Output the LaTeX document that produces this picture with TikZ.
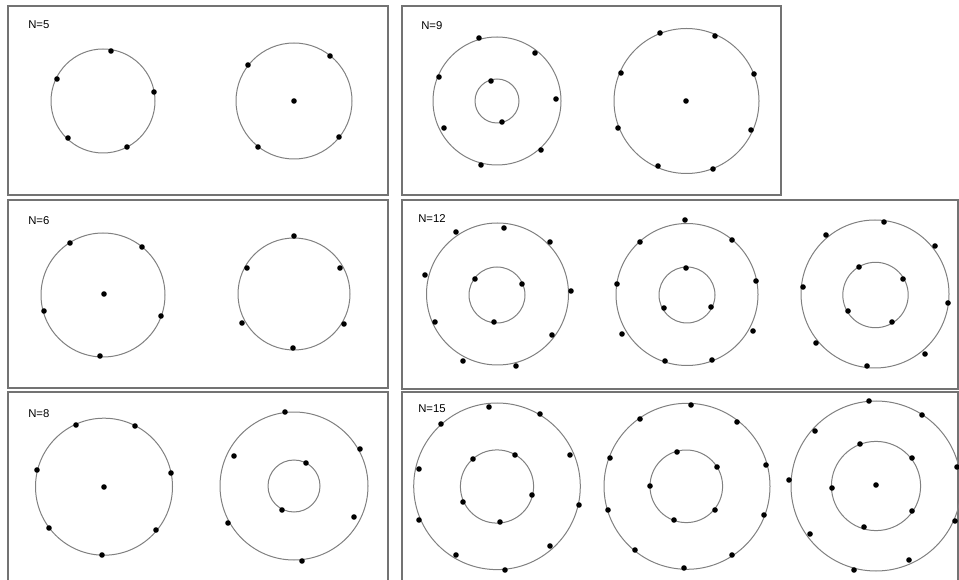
\documentclass[tikz,border=0pt]{standalone}
\usepackage{fontspec}
\setmainfont{Liberation Sans}

\begin{document}
\begin{tikzpicture}[
    x=0.75pt, y=-0.75pt,
    panel/.style={draw=black!55, line width=1.1pt},
    ring/.style={draw=black!50, line width=0.75pt},
    dot/.style={fill=black},
    tag/.style={anchor=west, inner sep=0pt, font=\fontsize{8.5}{10}\selectfont},
]
\clip (0,0) rectangle (959,580);

% --- Panel frames ---
\draw[panel] (8,6) rectangle (388,195);
\draw[panel] (402,6) rectangle (781,195);
\draw[panel] (8,200) rectangle (388,388);
\draw[panel] (402,200) rectangle (958,389);
\draw[panel] (8,392) rectangle (388,590);
\draw[panel] (402,392) rectangle (958,590);

% --- Labels ---
\node[tag] (n5) at (28,25) {N=5};
\node[tag] (n9) at (421,26) {N=9};
\node[tag] (n6) at (28,221) {N=6};
\node[tag] (n12) at (418,219) {N=12};
\node[tag] (n8) at (28,414) {N=8};
\node[tag] (n15) at (418,409) {N=15};

% --- N=5 ---
\draw[ring] (103,101) circle[radius=52];
\draw[ring] (294,101) circle[radius=58];
\foreach \x/\y in {111/51, 57/79, 154/92, 68/138, 127/147,
                   294/101, 248/65, 330/56, 258/147, 339/137}
  \fill[dot] (\x,\y) circle[radius=2.8];

% --- N=9 ---
\draw[ring] (497,101) circle[radius=64];
\draw[ring] (497,101) circle[radius=22];
\draw[ring] (686.5,101) circle[radius=72.5];
\foreach \x/\y in {479/38, 535/53, 439/77, 556/99, 444/128, 541/150, 481/165,
                   491/81, 502/122,
                   686/101, 660/33, 715/36, 621/73, 754/74, 618/128, 751/130,
                   658/166, 713/169}
  \fill[dot] (\x,\y) circle[radius=2.8];

% --- N=6 ---
\draw[ring] (103,295) circle[radius=62];
\draw[ring] (294,294) circle[radius=56];
\foreach \x/\y in {104/294, 70/243, 142/247, 44/311, 161/316, 100/356,
                   294/236, 247/268, 340/268, 242/323, 344/324, 293/348}
  \fill[dot] (\x,\y) circle[radius=2.8];

% --- N=12 ---
\draw[ring] (497.5,294) circle[radius=71];
\draw[ring] (497,295) circle[radius=28];
\draw[ring] (687,294.5) circle[radius=71];
\draw[ring] (687,295) circle[radius=28];
\draw[ring] (875,294) circle[radius=74];
\draw[ring] (875.5,295) circle[radius=32.7];
\foreach \x/\y in {456/232, 504/228, 550/242, 425/275, 571/291, 435/322,
                   552/335, 463/361, 516/366, 475/279, 522/284, 494/322,
                   685/220, 732/240, 756/281, 753/331, 712/360, 640/242,
                   617/284, 622/334, 665/361, 686/268, 711/307, 664/308,
                   884/222, 826/235, 935/246, 803/287, 948/303, 816/343,
                   925/354, 867/366, 859/267, 903/279, 848/311, 892/322}
  \fill[dot] (\x,\y) circle[radius=2.8];

% --- N=8 ---
\draw[ring] (104,486.7) circle[radius=68.5];
\draw[ring] (294,486) circle[radius=74];
\draw[ring] (294,486) circle[radius=26];
\foreach \x/\y in {104/487, 76/425, 135/426, 37/470, 171/473, 49/528,
                   156/530, 102/555,
                   285/412, 360/449, 234/456, 228/523, 354/517, 302/561,
                   306/463, 282/510}
  \fill[dot] (\x,\y) circle[radius=2.8];

% --- N=15 ---
\draw[ring] (497,486.3) circle[radius=83.3];
\draw[ring] (497,486.5) circle[radius=36.6];
\draw[ring] (687,486.3) circle[radius=83];
\draw[ring] (686.3,486.3) circle[radius=36.3];
\draw[ring] (876,486) circle[radius=85];
\draw[ring] (876,486) circle[radius=44.6];
\foreach \x/\y in {489/407, 540/414, 441/424, 570/455, 419/469, 579/505,
                   419/520, 550/546, 456/555, 505/570, 473/459, 515/455,
                   532/495, 463/502, 500/522,
                   691/405, 737/422, 766/465, 764/515, 732/555, 684/568,
                   640/419, 610/458, 608/510, 635/550, 677/452, 650/486,
                   674/520, 717/467, 715/510,
                   869/401, 922/415, 815/431, 957/467, 789/480, 955/521,
                   810/534, 909/560, 854/570, 860/444, 912/458, 832/488,
                   912/511, 864/527, 876/485}
  \fill[dot] (\x,\y) circle[radius=2.8];
\end{tikzpicture}
\end{document}
